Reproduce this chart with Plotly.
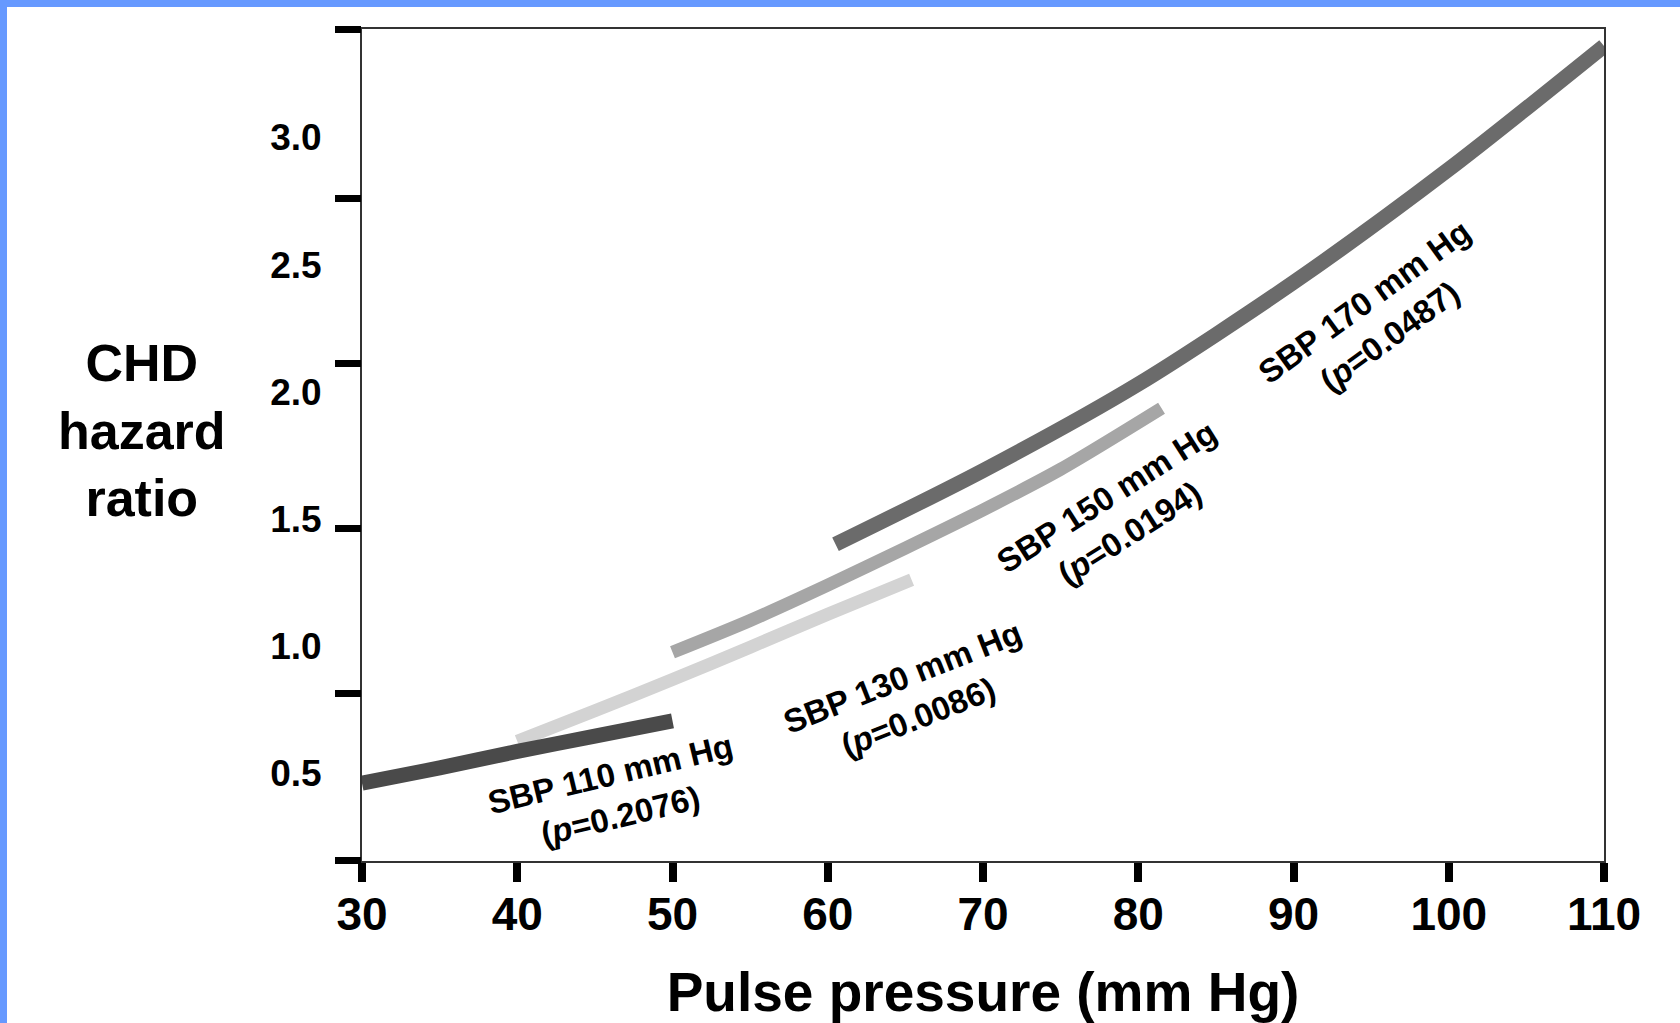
import plotly.graph_objects as go

# ---------------- data ----------------
x_ticks = [30, 40, 50, 60, 70, 80, 90, 100, 110]
y_label_vals = [0.5, 1.0, 1.5, 2.0, 2.5, 3.0]
y_label_text = ["0.5", "1.0", "1.5", "2.0", "2.5", "3.0"]
# positions of the (misaligned) tick marks on the vertical axis, in axis units
y_mark_vals = [0.155, 0.8125, 1.463, 2.113, 2.759, 3.425]

pp_110 = [30, 35, 40, 45, 50]
hr_110 = [0.46, 0.52, 0.585, 0.645, 0.705]

pp_130 = [40, 45, 50, 55, 60, 65.4]
hr_130 = [0.625, 0.745, 0.868, 0.995, 1.125, 1.26]

pp_150 = [50, 55, 60, 65, 70, 75, 81.5]
hr_150 = [0.975, 1.10, 1.239, 1.385, 1.535, 1.695, 1.935]

pp_170 = [60.5, 70, 80, 90, 100, 110]
hr_170 = [1.40, 1.69, 2.03, 2.43, 2.875, 3.36]

series = [
    ("SBP 130 mm Hg", pp_130, hr_130, "#d3d3d3", 13),
    ("SBP 150 mm Hg", pp_150, hr_150, "#a6a6a6", 13),
    ("SBP 170 mm Hg", pp_170, hr_170, "#6b6b6b", 15),
    ("SBP 110 mm Hg", pp_110, hr_110, "#4a4a4a", 15),
]

labels = [
    ("SBP 110 mm Hg", "0.2076", 46.3, 0.415, -13.5),
    ("SBP 130 mm Hg", "0.0086", 65.35, 0.800, -21.5),
    ("SBP 150 mm Hg", "0.0194", 78.7, 1.515, -32.5),
    ("SBP 170 mm Hg", "0.0487", 95.4, 2.285, -36),
]

Y_MIN, Y_MAX = 0.154, 3.427
FONT = "Liberation Sans, Arial, Helvetica, sans-serif"

W, H = 1680, 1023
ML, MR, MT, MB = 362, 76, 29, 162
PW, PH = W - ML - MR, H - MT - MB

fig = go.Figure()
for name, xs, ys, col, lw in series:
    fig.add_trace(go.Scatter(
        x=xs, y=ys, mode="lines", name=name,
        line=dict(color=col, width=lw, shape="spline", smoothing=0.8),
        hoverinfo="skip", showlegend=False,
    ))
# carrier trace for the overlaying axis that draws the tick marks
fig.add_trace(go.Scatter(x=[None], y=[None], yaxis="y2", showlegend=False,
                         hoverinfo="skip", mode="lines"))

for txt, p, x, y, ang in labels:
    fig.add_annotation(
        x=x, y=y, xref="x", yref="y",
        text=f"{txt}<br>(<i>p</i>={p})",
        showarrow=False, textangle=ang,
        xanchor="center", yanchor="middle", align="center",
        font=dict(family=FONT, size=33, color="black", weight="bold"),
    )

# y axis title (three centred lines)
fig.add_annotation(
    x=(142 - ML) / PW, y=(MT + PH - 431) / PH, xref="paper", yref="paper",
    text="CHD<br>hazard<br>ratio", showarrow=False,
    xanchor="center", yanchor="middle", align="center",
    font=dict(family=FONT, size=52, color="black", weight="bold"),
)

# blue border strips (top and left)
def px_x(X):
    return (X - ML) / PW

def px_y(Y):
    return (MT + PH - Y) / PH

blue = "#6699ff"
fig.add_shape(type="rect", xref="paper", yref="paper",
              x0=px_x(0), x1=px_x(W), y0=px_y(7), y1=px_y(0),
              fillcolor=blue, line=dict(width=0), layer="above")
fig.add_shape(type="rect", xref="paper", yref="paper",
              x0=px_x(0), x1=px_x(7), y0=px_y(H), y1=px_y(0),
              fillcolor=blue, line=dict(width=0), layer="above")

fig.update_layout(
    width=W, height=H,
    margin=dict(l=ML, r=MR, t=MT, b=MB, autoexpand=False),
    paper_bgcolor="white", plot_bgcolor="white",
    showlegend=False,
    xaxis=dict(
        range=[30, 110], tickvals=x_ticks, ticktext=[str(v) for v in x_ticks],
        ticks="outside", ticklen=19, tickwidth=8, tickcolor="black",
        showline=True, linecolor="#333333", linewidth=2, mirror=True,
        showgrid=False, zeroline=False, ticklabelstandoff=-7,
        tickfont=dict(family=FONT, size=46, color="black", weight="bold"),
        title=dict(text="Pulse pressure (mm Hg)", standoff=34,
                   font=dict(family=FONT, size=55, color="black", weight="bold")),
    ),
    yaxis=dict(
        range=[Y_MIN, Y_MAX], tickvals=y_label_vals, ticktext=y_label_text,
        ticks="", showline=True, linecolor="#333333", linewidth=2, mirror=True,
        showgrid=False, zeroline=False, ticklabelstandoff=31,
        tickfont=dict(family=FONT, size=37, color="black", weight="bold"),
    ),
    yaxis2=dict(
        overlaying="y", side="left", anchor="x",
        range=[Y_MIN, Y_MAX], tickvals=y_mark_vals,
        ticks="outside", ticklen=26, tickwidth=7, tickcolor="black",
        showticklabels=False, showgrid=False, zeroline=False, showline=False,
    ),
)

fig.write_html(
    "out.html",
    config={"displayModeBar": False},
    post_script="document.body.style.margin='0';document.body.style.overflow='hidden';",
)
